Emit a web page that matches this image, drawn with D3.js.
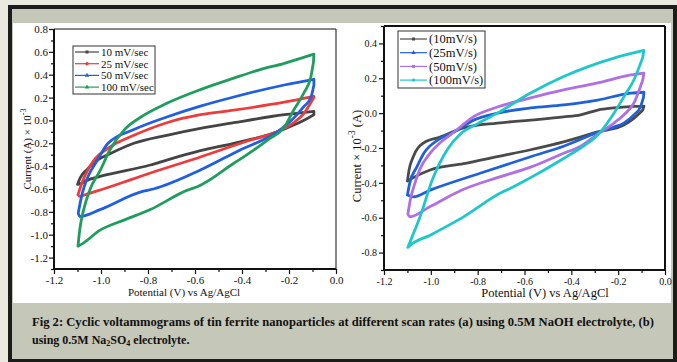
<!DOCTYPE html>
<html>
<head>
<meta charset="utf-8">
<script src="https://cdn.jsdelivr.net/npm/d3@7"></script>
<style>
  body { margin: 0; background: #e9e9df; }
  svg { display: block; }
  text { font-family: "Liberation Serif", "Times New Roman", serif; fill: #111; }
</style>
</head>
<body>
<svg id="chart" width="677" height="362"></svg>
<script>
// ---- data: potential (V) vs current (A x 10^-3), one loop per scan rate ----
const xTicks = [-1.2, -1.0, -0.8, -0.6, -0.4, -0.2, 0.0];

// (a) 0.5M NaOH
const namesA = ['10 mV/sec', '25 mV/sec', '50 mV/sec', '100 mV/sec'];
const colorsA = ['#444444', '#ee3b3b', '#1f5fe0', '#1f9d5c'];
const yTicksA = [0.8, 0.6, 0.4, 0.2, 0.0, -0.2, -0.4, -0.6, -0.8, -1.0, -1.2];

const naoh10 = [[-0.094, 0.08], [-0.22, 0.05], [-0.435, -0.02], [-0.577, -0.07], [-0.72, -0.13], [-0.86, -0.2],
  [-0.96, -0.29], [-1.017, -0.35], [-1.06, -0.43], [-1.088, -0.5], [-1.1, -0.56], [-1.09, -0.555], [-1.06, -0.525],
  [-1.004, -0.49], [-0.79, -0.39], [-0.717, -0.345], [-0.577, -0.265], [-0.435, -0.2], [-0.25, -0.1],
  [-0.18, -0.04], [-0.12, 0.02], [-0.094, 0.05]];
const naoh25 = [[-0.094, 0.21], [-0.22, 0.16], [-0.435, 0.09], [-0.577, 0.05], [-0.72, -0.02], [-0.86, -0.13],
  [-0.96, -0.23], [-1.03, -0.35], [-1.055, -0.43], [-1.08, -0.54], [-1.098, -0.65], [-1.09, -0.665], [-1.06, -0.645],
  [-0.99, -0.6], [-0.875, -0.52], [-0.79, -0.46], [-0.577, -0.32], [-0.363, -0.171], [-0.25, -0.1],
  [-0.18, -0.02], [-0.137, 0.06], [-0.1, 0.18], [-0.094, 0.2]];
const naoh50 = [[-0.094, 0.36], [-0.22, 0.31], [-0.435, 0.205], [-0.577, 0.125], [-0.72, 0.03], [-0.86, -0.08],
  [-0.97, -0.2], [-1.016, -0.35], [-1.055, -0.49], [-1.08, -0.64], [-1.097, -0.81], [-1.09, -0.84], [-1.004, -0.78],
  [-0.83, -0.625], [-0.777, -0.6], [-0.577, -0.434], [-0.41, -0.26], [-0.25, -0.1], [-0.18, 0.02],
  [-0.137, 0.12], [-0.107, 0.2], [-0.094, 0.31]];
const naoh100 = [[-0.094, 0.58], [-0.22, 0.5], [-0.33, 0.44], [-0.435, 0.37], [-0.577, 0.27], [-0.72, 0.15],
  [-0.83, 0.03], [-0.9, -0.08], [-0.96, -0.25], [-1.004, -0.44], [-1.046, -0.6], [-1.076, -0.8], [-1.09, -0.95],
  [-1.098, -1.1], [-1.08, -1.08], [-1.004, -0.96], [-0.9, -0.87], [-0.79, -0.78], [-0.632, -0.61], [-0.59, -0.58],
  [-0.435, -0.375], [-0.35, -0.26], [-0.29, -0.17], [-0.22, -0.057], [-0.18, 0.09], [-0.137, 0.24],
  [-0.107, 0.38], [-0.096, 0.51]];

// (b) 0.5M Na2SO4
const namesB = ['(10mV/s)', '(25mV/s)', '(50mV/s)', '(100mV/s)'];
const colorsB = ['#4a4a4a', '#1f62d8', '#b06fe2', '#1ec7c9'];
const yTicksB = [0.4, 0.2, 0.0, -0.2, -0.4, -0.6, -0.8];

const na2so4_10 = [[-0.09, 0.04], [-0.218, 0.03], [-0.287, 0.018], [-0.36, -0.01], [-0.433, -0.022], [-0.574, -0.04],
  [-0.716, -0.057], [-0.86, -0.085], [-0.96, -0.137], [-1.03, -0.17], [-1.075, -0.25], [-1.093, -0.326],
  [-1.1, -0.39], [-1.075, -0.37], [-1.003, -0.326], [-0.86, -0.29], [-0.716, -0.25], [-0.574, -0.21],
  [-0.433, -0.165], [-0.287, -0.108], [-0.176, -0.068], [-0.133, -0.03], [-0.095, 0.018]];
const na2so4_25 = [[-0.09, 0.12], [-0.146, 0.115], [-0.287, 0.075], [-0.433, 0.047], [-0.574, 0.03], [-0.716, 0.0],
  [-0.817, -0.04], [-0.9, -0.108], [-0.97, -0.154], [-1.03, -0.23], [-1.06, -0.31], [-1.09, -0.4], [-1.1, -0.47],
  [-1.075, -0.48], [-1.0, -0.44], [-0.79, -0.345], [-0.574, -0.25], [-0.433, -0.19], [-0.287, -0.11],
  [-0.218, -0.08], [-0.176, -0.057], [-0.133, -0.01], [-0.105, 0.035], [-0.092, 0.09]];
const na2so4_50 = [[-0.09, 0.23], [-0.146, 0.219], [-0.287, 0.173], [-0.433, 0.133], [-0.574, 0.087], [-0.716, 0.035],
  [-0.817, -0.02], [-0.9, -0.108], [-0.96, -0.17], [-1.003, -0.23], [-1.046, -0.32], [-1.07, -0.41], [-1.088, -0.5],
  [-1.098, -0.58], [-1.09, -0.595], [-1.003, -0.536], [-0.874, -0.445], [-0.716, -0.37], [-0.574, -0.31],
  [-0.433, -0.23], [-0.36, -0.19], [-0.287, -0.12], [-0.218, -0.057], [-0.176, -0.01], [-0.133, 0.057],
  [-0.095, 0.19]];
const na2so4_100 = [[-0.09, 0.36], [-0.218, 0.316], [-0.433, 0.21], [-0.574, 0.115], [-0.716, 0.0], [-0.8, -0.06],
  [-0.874, -0.12], [-0.93, -0.21], [-0.994, -0.384], [-1.046, -0.594], [-1.08, -0.71], [-1.098, -0.77],
  [-1.09, -0.76], [-1.003, -0.7], [-0.86, -0.595], [-0.69, -0.45], [-0.673, -0.44], [-0.574, -0.37],
  [-0.433, -0.26], [-0.35, -0.19], [-0.287, -0.125], [-0.218, 0.0], [-0.176, 0.093], [-0.133, 0.19],
  [-0.095, 0.32]];

const svg = d3.select('#chart');

// page frame
svg.append('rect').attr('x', 8).attr('y', 5).attr('width', 669).attr('height', 357).attr('fill', '#1c1c1c');
svg.append('rect').attr('x', 12).attr('y', 9).attr('width', 661).attr('height', 350).attr('fill', '#c5c7b8');
svg.append('rect').attr('x', 13).attr('y', 23).attr('width', 658).attr('height', 280).attr('fill', '#ffffff');

const minorOf = ticks => ticks.slice(1).map((t, i) => (t + ticks[i]) / 2);

function drawPanel(p) {
  const x = d3.scaleLinear().domain([-1.2, 0]).range([p.left, p.right]);
  const y = d3.scaleLinear().domain(p.yDomain).range([p.bottom, p.top]);
  const g = svg.append('g');
  const fmt = d => d.toFixed(1);

  // minor ticks
  const yMinor = minorOf(p.yTicks).concat([p.yTicks[p.yTicks.length - 1] - 0.1, p.yTicks[0] + 0.1])
    .filter(v => v > p.yDomain[0] - 1e-9 && v < p.yDomain[1] + 1e-9);
  g.append('g').attr('transform', `translate(0,${p.bottom})`)
    .call(d3.axisBottom(x).tickValues(minorOf(xTicks)).tickSize(3).tickFormat(''));
  g.append('g').attr('transform', `translate(${p.left},0)`)
    .call(d3.axisLeft(y).tickValues(yMinor).tickSize(3).tickFormat(''));

  // major ticks + labels
  const xa = g.append('g').attr('transform', `translate(0,${p.bottom})`)
    .call(d3.axisBottom(x).tickValues(xTicks).tickSize(5).tickPadding(p.pad).tickFormat(fmt));
  const ya = g.append('g').attr('transform', `translate(${p.left},0)`)
    .call(d3.axisLeft(y).tickValues(p.yTicks).tickSize(5).tickPadding(p.pad - 1).tickFormat(fmt));
  g.selectAll('.domain').remove();
  g.selectAll('.tick line').attr('stroke', '#111').attr('stroke-width', 1.2);
  [xa, ya].forEach(a => a.selectAll('text')
    .attr('font-size', p.tickFont)
    .attr('fill', '#222'));

  // curves: each loop is split into its upper and lower sweep at the
  // left turning point, so both halves can use a monotone curve
  const line = d3.line()
    .x(d => x(d[0]))
    .y(d => y(d[1]))
    .curve(d3.curveMonotoneX);
  p.series.forEach((s, i) => {
    const k = d3.minIndex(s, d => d[0]);
    const upper = s.slice(0, k + 1).reverse();
    const lower = s.slice(k);
    const last = lower[lower.length - 1];
    const d = line(upper) + line(lower) + `M${x(last[0])},${y(last[1])}L${x(s[0][0])},${y(s[0][1])}`;
    g.append('path')
      .attr('d', d)
      .attr('fill', 'none')
      .attr('stroke', p.colors[i])
      .attr('stroke-width', 2.8)
      .attr('stroke-linejoin', 'round')
      .attr('stroke-linecap', 'round');
  });

  // plot frame
  g.append('line').attr('x1', p.left).attr('x2', p.right).attr('y1', p.top).attr('y2', p.top)
    .attr('stroke', '#111').attr('stroke-width', p.frameTop);
  g.append('line').attr('x1', p.right).attr('x2', p.right).attr('y1', p.top).attr('y2', p.bottom)
    .attr('stroke', '#111').attr('stroke-width', p.frameTop);
  g.append('line').attr('x1', p.left).attr('x2', p.left).attr('y1', p.top).attr('y2', p.bottom + 1)
    .attr('stroke', '#111').attr('stroke-width', 2);
  g.append('line').attr('x1', p.left - 1).attr('x2', p.right).attr('y1', p.bottom).attr('y2', p.bottom)
    .attr('stroke', '#111').attr('stroke-width', 2);

  // axis titles
  g.append('text')
    .attr('x', p.xTitleX).attr('y', p.bottom + 27)
    .attr('text-anchor', 'middle')
    .attr('font-size', p.titleFont)
    .text('Potential (V) vs Ag/AgCl');

  const yt = g.append('text')
    .attr('transform', `translate(${p.yTitleX},${p.yTitleY}) rotate(-90)`)
    .attr('text-anchor', 'middle')
    .attr('font-size', p.titleFont);
  p.yTitle.forEach(part => {
    const t = yt.append('tspan').text(part.t);
    if (part.sup) t.attr('font-size', p.titleFont * 0.75).attr('baseline-shift', '65%');
  });

  // legend
  const lg = g.append('g');
  lg.append('rect')
    .attr('x', p.legend.x).attr('y', p.legend.y)
    .attr('width', p.legend.w).attr('height', p.legend.h)
    .attr('fill', '#fff').attr('stroke', '#333').attr('stroke-width', 1);
  p.names.forEach((n, i) => {
    const cy = p.legend.y + p.legend.first + i * p.legend.step;
    lg.append('line')
      .attr('x1', p.legend.x + 2).attr('x2', p.legend.x + p.legend.line)
      .attr('y1', cy).attr('y2', cy)
      .attr('stroke', p.colors[i]).attr('stroke-width', 1.2);
    lg.append('path')
      .attr('d', d3.symbol().type(p.symbols[i]).size(9))
      .attr('transform', `translate(${p.legend.x + 2 + (p.legend.line - 2) / 2},${cy})`)
      .attr('fill', p.colors[i]);
    lg.append('text')
      .attr('x', p.legend.x + p.legend.line + 2).attr('y', cy)
      .attr('dy', '0.35em')
      .attr('font-size', p.legend.font)
      .text(n);
  });
}

drawPanel({
  left: 54, right: 336, top: 29, bottom: 269,
  yDomain: [-1.3, 0.8], yTicks: yTicksA,
  series: [naoh10, naoh25, naoh50, naoh100], colors: colorsA, names: namesA,
  symbols: [d3.symbolSquare, d3.symbolCircle, d3.symbolTriangle, d3.symbolTriangle],
  tickFont: 11, titleFont: 11, pad: 2, frameTop: 1,
  xTitleX: 184, yTitleX: 31, yTitleY: 149,
  yTitle: [{ t: 'Current (A) × 10' }, { t: '-3', sup: true }],
  legend: { x: 73, y: 46, w: 82, h: 48, first: 6, step: 11.7, line: 26, font: 11 }
});

drawPanel({
  left: 384, right: 665, top: 26, bottom: 270,
  yDomain: [-0.9, 0.5], yTicks: yTicksB,
  series: [na2so4_10, na2so4_25, na2so4_50, na2so4_100], colors: colorsB, names: namesB,
  symbols: [d3.symbolSquare, d3.symbolTriangle, d3.symbolSquare, d3.symbolCircle],
  tickFont: 10, titleFont: 12.5, pad: 3, frameTop: 2,
  xTitleX: 545, yTitleX: 361, yTitleY: 156,
  yTitle: [{ t: 'Current × 10' }, { t: '-3', sup: true }, { t: ' (A)' }],
  legend: { x: 398, y: 31, w: 87, h: 57, first: 8, step: 13.7, line: 29, font: 12.5 }
});

// caption
svg.append('text')
  .attr('font-weight', 'bold')
  .attr('font-size', 12)
  .attr('x', 32).attr('y', 326)
  .attr('textLength', 622).attr('lengthAdjust', 'spacingAndGlyphs')
  .text('Fig 2: Cyclic voltammograms of tin ferrite nanoparticles at different scan rates  (a) using 0.5M NaOH electrolyte, (b)');
const l2 = svg.append('text').attr('font-weight', 'bold').attr('font-size', 12).attr('x', 32).attr('y', 344);
[['using 0.5M Na', false], ['2', true], ['SO', false], ['4', true], [' electrolyte.', false]].forEach(([t, sub]) => {
  const ts = l2.append('tspan').text(t);
  if (sub) ts.attr('font-size', 8).attr('baseline-shift', '-25%');
});
</script>
</body>
</html>
